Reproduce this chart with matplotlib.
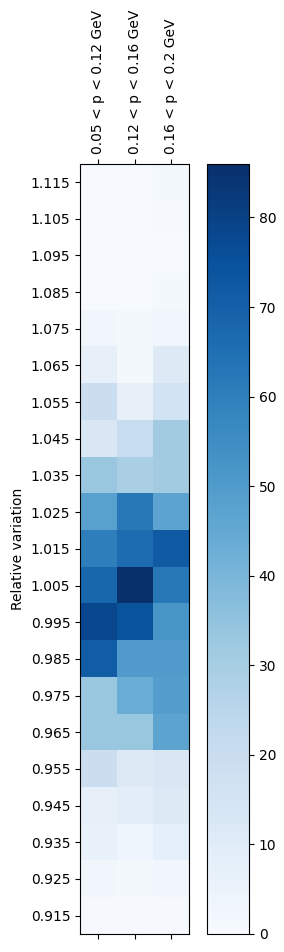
import matplotlib
matplotlib.use("Agg")
import matplotlib.pyplot as plt
import numpy as np

bins = ["0.05 < p < 0.12 GeV", "0.12 < p < 0.16 GeV", "0.16 < p < 0.2 GeV"]
variation = ["1.115", "1.105", "1.095", "1.085", "1.075", "1.065", "1.055",
             "1.045", "1.035", "1.025", "1.015", "1.005", "0.995", "0.985",
             "0.975", "0.965", "0.955", "0.945", "0.935", "0.925", "0.915"]

# counts per row (top to bottom), one column per momentum bin
col1 = [0.5, 0.5, 0.5, 0.5, 3, 7, 19, 13, 33, 48, 60, 68, 78, 71, 33, 33, 19, 7, 6, 3, 1]
col2 = [0.5, 0.5, 0.5, 0.5, 2, 2, 7, 20, 29, 62, 66, 86, 74, 50, 43, 33, 11, 9, 4, 1.5, 1]
col3 = [1.5, 1, 0.5, 1.5, 3, 11, 16, 31, 31, 47, 72, 62, 52, 50, 49, 47, 13, 11, 8, 3, 1]

data = np.array([col1, col2, col3]).T

fig = plt.figure(figsize=(2.84, 9.52), dpi=100)
ax = fig.add_axes([0.282, 0.019, 0.384, 0.809])
cax = fig.add_axes([0.729, 0.019, 0.148, 0.809])

im = ax.matshow(data, cmap="Blues", aspect="auto", vmin=0)
ax.set_xticks(range(len(bins)))
ax.set_xticklabels(bins, rotation=90)
ax.set_yticks(range(len(variation)))
ax.set_yticklabels(variation)
ax.set_ylabel("Relative variation")

fig.colorbar(im, cax=cax)

fig.savefig("out.png", dpi=100)
